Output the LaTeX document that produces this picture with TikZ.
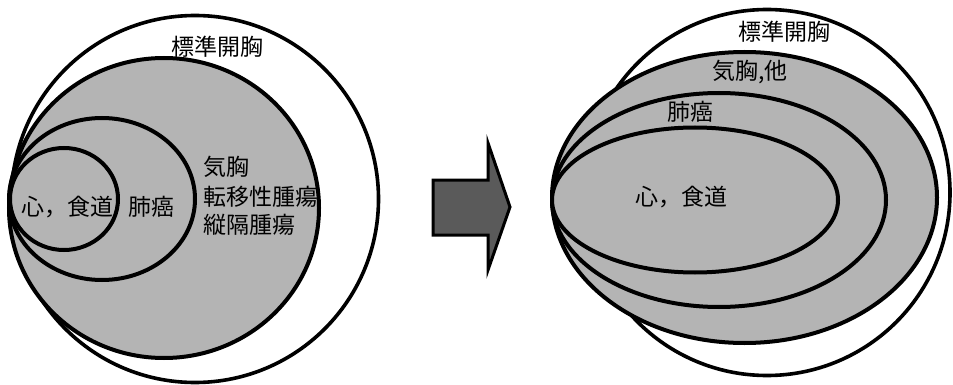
\documentclass[tikz,border=0pt]{standalone}
\usepackage{fontspec}
\newfontfamily\jp{Noto Sans CJK JP}
\definecolor{zone}{HTML}{B4B4B4}
\definecolor{arrowfill}{HTML}{5A5A5A}
\tikzset{
  ring/.style={draw=black, line width=4pt, fill=zone},
  outerring/.style={draw=black, line width=3.6pt, fill=white},
  lbl/.style={inner sep=0pt, font=\jp\fontsize{23}{29}\selectfont},
  bigarrow/.style={draw=black, line width=3pt, fill=arrowfill, line join=miter}
}
\begin{document}
\begin{tikzpicture}[x=1pt,y=-1pt]
\useasboundingbox (0,0) rectangle (953,385);
\fill[white] (0,0) rectangle (953,385);
% ---------- left diagram ----------
\draw[outerring] (195,199) circle [radius=183.5];
\draw[ring] (164,208) ellipse [x radius=155, y radius=150];
\draw[ring] (102,199) ellipse [x radius=93, y radius=81];
\draw[ring] (64,199) ellipse [x radius=54, y radius=51];
\node[lbl] (lstd) at (217.5,47) {標準開胸};
\node[lbl] (lheart) at (67,207) {心，食道};
\node[lbl] (llung) at (151,207) {肺癌};
\node[lbl, anchor=west] (lpneu) at (203,167) {気胸};
\node[lbl, anchor=west] (lmeta) at (203,197) {転移性腫瘍};
\node[lbl, anchor=west] (lmed) at (203,225) {縦隔腫瘍};
% ---------- arrow ----------
\draw[bigarrow] (433,180) -- (488,180) -- (488,143) -- (510,207) -- (488,270) -- (488,235) -- (433,235) -- cycle;
% ---------- right diagram ----------
\draw[outerring] (767,192.5) circle [radius=183];
\draw[ring] (744.5,197.5) ellipse [x radius=192.5, y radius=145.5];
\draw[ring] (719,200) ellipse [x radius=167, y radius=107];
\draw[ring] (695,200) ellipse [x radius=143, y radius=72.5];
\node[lbl] (rstd) at (784,32) {標準開胸};
\node[lbl] (rpneu) at (750,72) {気胸,他};
\node[lbl] (rlung) at (690,112) {肺癌};
\node[lbl] (rheart) at (681,197) {心，食道};
\end{tikzpicture}
\end{document}
